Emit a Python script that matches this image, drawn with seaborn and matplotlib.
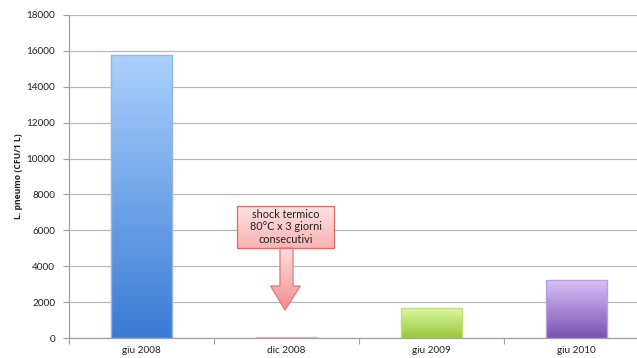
import numpy as np
import pandas as pd
import matplotlib
matplotlib.use("Agg")
import matplotlib.pyplot as plt
import seaborn as sns
from matplotlib.patches import Rectangle, Polygon
from matplotlib.colors import LinearSegmentedColormap

# Data
periods = ["giu 2008", "dic 2008", "giu 2009", "giu 2010"]
counts = [15750, 30, 1650, 3250]
y_ticks = [0, 2000, 4000, 6000, 8000, 10000, 12000, 14000, 16000, 18000]
note = "shock termico\n80°C x 3 giorni\nconsecutivi"

# top / bottom colours of each bar gradient
grad_top = ["#abd0fc", "#fbd0d0", "#dcf7a4", "#d8c3f7"]
grad_bot = ["#3a7bd5", "#f19a9a", "#98c93a", "#7a52b3"]
edge_cols = ["#8fb6e8", "#f0b0b0", "#c2e07a", "#b9a0e0"]

sns.set_theme(style="white")
plt.rcParams["font.family"] = ["Lato", "DejaVu Sans"]

fig = plt.figure(figsize=(6.37, 3.58), dpi=100)
ax = fig.add_axes([69 / 637, 20 / 358, 580 / 637, 323 / 358])

df = pd.DataFrame({"period": periods, "count": counts})
sns.barplot(data=df, x="period", y="count", ax=ax, width=0.42,
            color="#ffffff", saturation=1, zorder=3)

ax.set_ylim(0, 18000)
ax.set_xlim(-0.5, len(periods) - 0.5)

# vertical gradient fill for each bar
for i, patch in enumerate(ax.patches[:len(periods)]):
    x0, y0 = patch.get_x(), patch.get_y()
    w, h = patch.get_width(), patch.get_height()
    cmap = LinearSegmentedColormap.from_list(f"g{i}", [grad_bot[i], grad_top[i]])
    grad = np.linspace(0, 1, 256).reshape(-1, 1)
    im = ax.imshow(grad, cmap=cmap, aspect="auto", origin="lower",
                   extent=[x0, x0 + w, y0, y0 + h], zorder=3.5)
    im.set_clip_path(patch)
    patch.set_facecolor("none")
    patch.set_edgecolor(edge_cols[i])
    patch.set_linewidth(1.0)
    patch.set_zorder(4)

ax.set_yticks(y_ticks)
ax.set_yticklabels([str(v) for v in y_ticks])
ax.grid(axis="y", color="#b8b8b8", linewidth=0.9, zorder=0)
ax.set_axisbelow(True)

# category labels centred, tick marks at category boundaries
ax.set_xticks(range(len(periods)))
ax.set_xticklabels(periods)
ax.set_xticks(np.arange(-0.5, len(periods) + 0.5, 1), minor=True)
ax.tick_params(axis="x", which="major", length=0, pad=6, labelsize=7.2, colors="#222222")
ax.tick_params(axis="x", which="minor", length=4, width=0.8, color="#a0a0a0", direction="out")
ax.tick_params(axis="y", length=4, width=0.8, color="#a0a0a0", direction="out",
               pad=6, labelsize=7.2, labelcolor="#222222")
ax.yaxis.set_ticks_position("left")
ax.xaxis.set_ticks_position("bottom")

for side in ["top", "right"]:
    ax.spines[side].set_visible(False)
for side in ["left", "bottom"]:
    ax.spines[side].set_color("#a0a0a0")
    ax.spines[side].set_linewidth(0.9)

ax.set_xlabel("")
ax.set_ylabel("L. pneumo (CFU/1 L)", fontsize=6.2, fontweight="bold", color="#222222",
              family=["Open Sans", "DejaVu Sans"])
ax.yaxis.set_label_coords(-0.08, 0.5)

# annotation box with gradient fill
bx0, bx1, by0, by1 = 0.66, 1.33, 5020, 7360
box = Rectangle((bx0, by0), bx1 - bx0, by1 - by0, facecolor="none",
                edgecolor="#e06a6a", linewidth=0.9, zorder=6)
ax.add_patch(box)
bcmap = LinearSegmentedColormap.from_list("box", ["#f9b3b3", "#fde2e2"])
bim = ax.imshow(np.linspace(0, 1, 256).reshape(-1, 1), cmap=bcmap, aspect="auto",
                origin="lower", extent=[bx0, bx1, by0, by1], zorder=5.5)
bim.set_clip_path(box)
ax.text((bx0 + bx1) / 2, (by0 + by1) / 2, note, ha="center", va="center",
        fontsize=7.8, color="#222222", linespacing=1.2, zorder=7)

# downward block arrow
sx0, sx1 = 0.955, 1.045
hx0, hx1 = 0.89, 1.095
hy, tip = 2900, 1560
arrow = Polygon([(sx0, by0), (sx1, by0), (sx1, hy), (hx1, hy), (0.99, tip),
                 (hx0, hy), (sx0, hy)], closed=True, facecolor="none",
                edgecolor="#e57878", linewidth=0.9, zorder=6)
ax.add_patch(arrow)
acmap = LinearSegmentedColormap.from_list("arr", ["#f58c8c", "#fde0e0"])
aim = ax.imshow(np.linspace(0, 1, 256).reshape(-1, 1), cmap=acmap, aspect="auto",
                origin="lower", extent=[hx0, hx1, tip, by0], zorder=5.5)
aim.set_clip_path(arrow)

ax.set_xlim(-0.5, len(periods) - 0.5)
ax.set_ylim(0, 18000)

fig.savefig("out.png", dpi=100)
